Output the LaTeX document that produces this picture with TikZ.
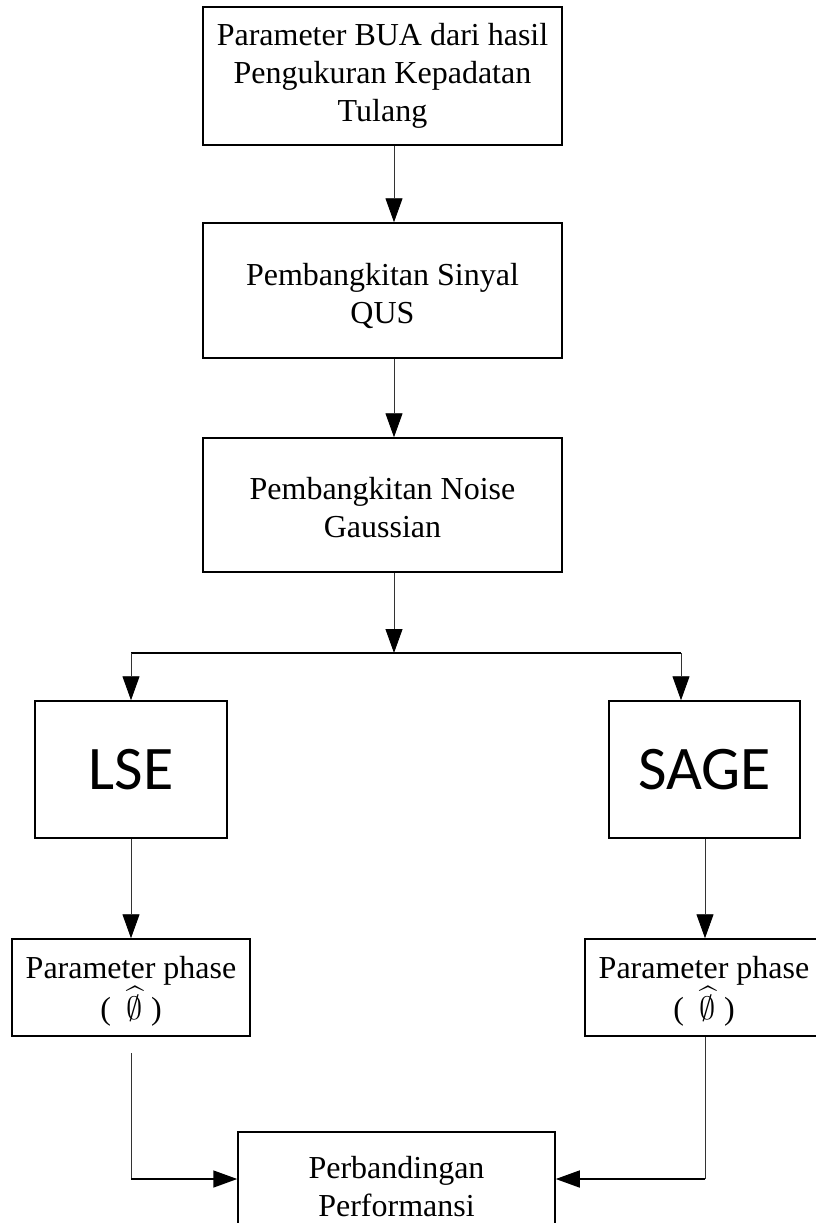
\documentclass[tikz,border=0pt]{standalone}
\usepackage{graphicx}
\usepackage{amssymb}
\usepackage{fontspec}
\setmainfont{Liberation Serif}
\newfontfamily\calfont{Carlito}
\usetikzlibrary{arrows.meta}
\newcommand{\lowerby}[1]{\rule{0pt}{#1}}
\newcommand{\phihat}{$\widehat{\hbox{\scalebox{1.3}{$\emptyset$}}}$}
\begin{document}
\begin{tikzpicture}[x=1pt,y=-1pt,
  box/.style={draw=black,line width=1.5pt,rectangle,inner sep=0pt,align=center,
    font=\fontsize{32}{38}\selectfont},
  bigtext/.style={font=\calfont\fontsize{62}{70}\selectfont},
  conn/.style={line width=0.9pt,draw=black!80},
  hconn/.style={line width=1.6pt,draw=black},
  arr/.style={-{Triangle[length=24pt,width=17pt,color=black]}}
]
\useasboundingbox (0,0) rectangle (815,1223);
\fill[white] (0,0) rectangle (815,1223);

\node[box,minimum width=359pt,minimum height=138pt] (b1) at (382.5,76)
  {Parameter BUA dari hasil\\Pengukuran Kepadatan\\Tulang};
\node[box,minimum width=359pt,minimum height=135pt] (b2) at (382.5,290.5)
  {\lowerby{34pt}Pembangkitan Sinyal\\QUS};
\node[box,minimum width=359pt,minimum height=134pt] (b3) at (382.5,505)
  {\lowerby{28pt}Pembangkitan Noise\\Gaussian};
\node[box,bigtext,minimum width=192pt,minimum height=137pt] (lse) at (131,769.5) {LSE};
\node[box,bigtext,minimum width=191pt,minimum height=137pt] (sage) at (704.5,769.5) {SAGE};
\node[box,minimum width=238pt,minimum height=97pt] (pl) at (131,987.5)
  {\lowerby{30pt}Parameter phase\\(\hspace{8pt} \phihat{} )};
\node[box,minimum width=238pt,minimum height=97pt] (pr) at (704,987.5)
  {\lowerby{30pt}Parameter phase\\(\hspace{8pt} \phihat{} )};
\node[box,minimum width=317pt,minimum height=110pt] (cmp) at (396.5,1187)
  {Perbandingan\\Performansi};

\coordinate (cx) at (394,0);
\coordinate (jc) at (394,653);
\coordinate (jl) at (131,653);
\coordinate (jr) at (681,653);
\coordinate (rx) at (705,0);
\coordinate (gl) at (131,1053);
\coordinate (bl) at (131,1179);
\coordinate (br) at (705,1179);

\draw[conn,arr] (b1.south -| cx) -- (b2.north -| cx);
\draw[conn,arr] (b2.south -| cx) -- (b3.north -| cx);
\draw[conn,arr] (b3.south -| cx) -- (jc);
\draw[hconn] (jl) -- (jr);
\draw[conn,arr] (jl) -- (lse.north);
\draw[conn,arr] (jr) -- (sage.north -| jr);
\draw[conn,arr] (lse.south) -- (pl.north);
\draw[conn,arr] (sage.south -| rx) -- (pr.north -| rx);
\draw[conn] (gl) -- (bl);
\draw[hconn,arr] (bl) -- (cmp.west |- bl);
\draw[conn] (pr.south -| rx) -- (br);
\draw[hconn,arr] (br) -- (cmp.east |- br);
\end{tikzpicture}
\end{document}
